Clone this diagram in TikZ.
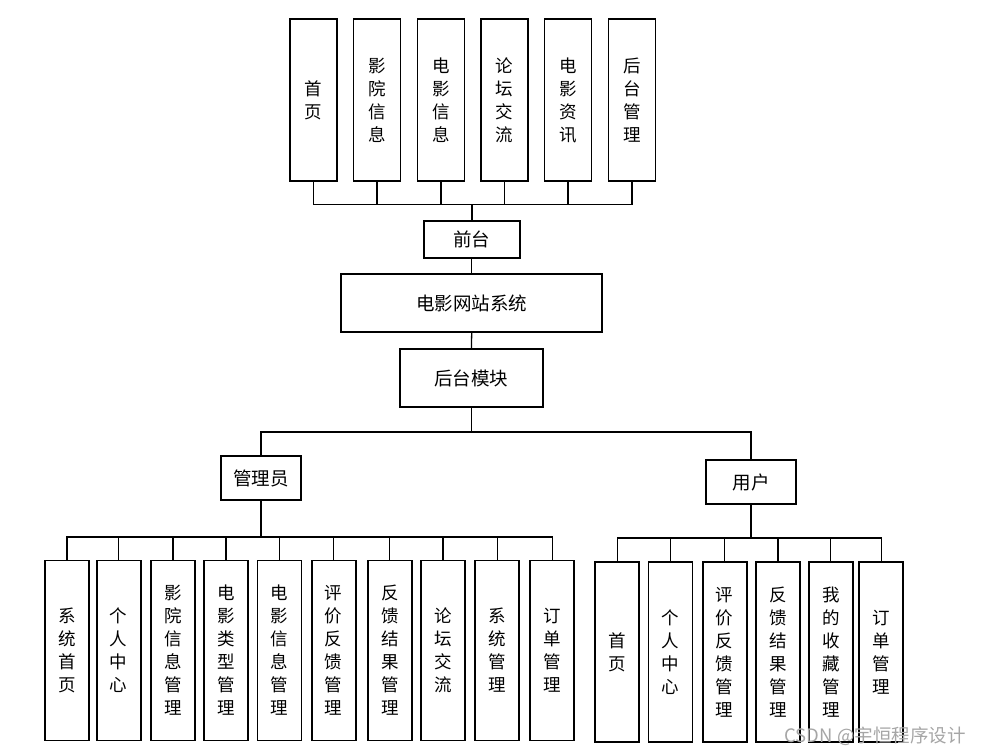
\documentclass[tikz,border=0pt]{standalone}
\usepackage{fontspec}
\setmainfont{Noto Sans CJK SC}
\begin{document}
\begin{tikzpicture}[x=1pt,y=-1pt,
  box/.style={draw=black, line width=1.8pt, fill=white, inner sep=0pt,
    font=\fontsize{17.5}{23}\selectfont, align=center},
  hbox/.style={box, font=\fontsize{18.5}{23}\selectfont},
  topbox/.style={box, minimum width=47pt, minimum height=162pt},
  lowbox/.style={box, minimum width=44pt, minimum height=180pt},
  conn/.style={draw=black, line width=1.3pt},
  mainconn/.style={draw=black, line width=2pt}
]
\useasboundingbox (0,0) rectangle (987,755);
% top row
\node[topbox] (t1) at (313.5,100) {首\\页};
\node[topbox] (t2) at (377,100) {影\\院\\信\\息};
\node[topbox] (t3) at (441,100) {电\\影\\信\\息};
\node[topbox] (t4) at (504.5,100) {论\\坛\\交\\流};
\node[topbox] (t5) at (568,100) {电\\影\\资\\讯};
\node[topbox] (t6) at (632,100) {后\\台\\管\\理};
\node[hbox, minimum width=96pt, minimum height=37pt] (qt) at (471.7,239.5) {前台};
\node[hbox, minimum width=261pt, minimum height=58pt] (sys) at (471.7,303) {电影网站系统};
\node[hbox, minimum width=143pt, minimum height=58pt] (ht) at (471.4,378) {后台模块};
\node[hbox, minimum width=80pt, minimum height=44pt] (adm) at (261,478) {管理员};
\node[hbox, minimum width=90pt, minimum height=44pt] (usr) at (751,482) {用户};
\coordinate (topbus) at (471.7,204.7);
\coordinate (midbus) at (471.4,432);
\coordinate (admbus) at (261,537);
\coordinate (usrbus) at (751,538);
% admin boxes
\node[lowbox] (a1) at (67,650.5) {系\\统\\首\\页};
\node[lowbox] (a2) at (118.7,650.5) {个\\人\\中\\心};
\node[lowbox] (a3) at (172.9,650.5) {影\\院\\信\\息\\管\\理};
\node[lowbox] (a4) at (226,650.5) {电\\影\\类\\型\\管\\理};
\node[lowbox] (a5) at (279.4,650.5) {电\\影\\信\\息\\管\\理};
\node[lowbox] (a6) at (333.7,650.5) {评\\价\\反\\馈\\管\\理};
\node[lowbox] (a7) at (389.8,650.5) {反\\馈\\结\\果\\管\\理};
\node[lowbox] (a8) at (443,650.5) {论\\坛\\交\\流};
\node[lowbox] (a9) at (497.3,650.5) {系\\统\\管\\理};
\node[lowbox] (a10) at (552.2,650.5) {订\\单\\管\\理};
% user boxes
\node[lowbox] (u1) at (617.2,652) {首\\页};
\node[lowbox] (u2) at (670.5,652) {个\\人\\中\\心};
\node[lowbox] (u3) at (724.7,652) {评\\价\\反\\馈\\管\\理};
\node[lowbox] (u4) at (777.9,652) {反\\馈\\结\\果\\管\\理};
\node[lowbox] (u5) at (830.8,652) {我\\的\\收\\藏\\管\\理};
\node[lowbox] (u6) at (881.3,652) {订\\单\\管\\理};
% top connectors
\draw[conn] (t1.south) -- (t1.south|-topbus) -- (t6.south|-topbus) -- (t6.south);
\foreach \n in {t2,t3,t4,t5} \draw[conn] (\n.south) -- (\n.south|-topbus);
\draw[mainconn] (topbus) -- (qt.north);
\draw[conn] (qt.south) -- (sys.north);
\draw[conn] (sys.south) -- (ht.north);
\draw[conn] (ht.south) -- (midbus);
\draw[conn] (adm.north) -- (adm.north|-midbus) -- (usr.north|-midbus) -- (usr.north);
% admin connectors
\draw[mainconn] (adm.south) -- (admbus);
\draw[conn] (a1.north) -- (a1.north|-admbus) -- (a10.north|-admbus) -- (a10.north);
\foreach \n in {a2,a3,a4,a5,a6,a7,a8,a9} \draw[conn] (\n.north) -- (\n.north|-admbus);
% user connectors
\draw[mainconn] (usr.south) -- (usrbus);
\draw[conn] (u1.north) -- (u1.north|-usrbus) -- (u6.north|-usrbus) -- (u6.north);
\foreach \n in {u2,u3,u4,u5} \draw[conn] (\n.north) -- (\n.north|-usrbus);
% watermark
\node[text=black!35, font=\fontsize{18.5}{20}\selectfont, inner sep=0pt] (wm) at (875,736) {CSDN @宇恒程序设计};
\end{tikzpicture}
\end{document}
